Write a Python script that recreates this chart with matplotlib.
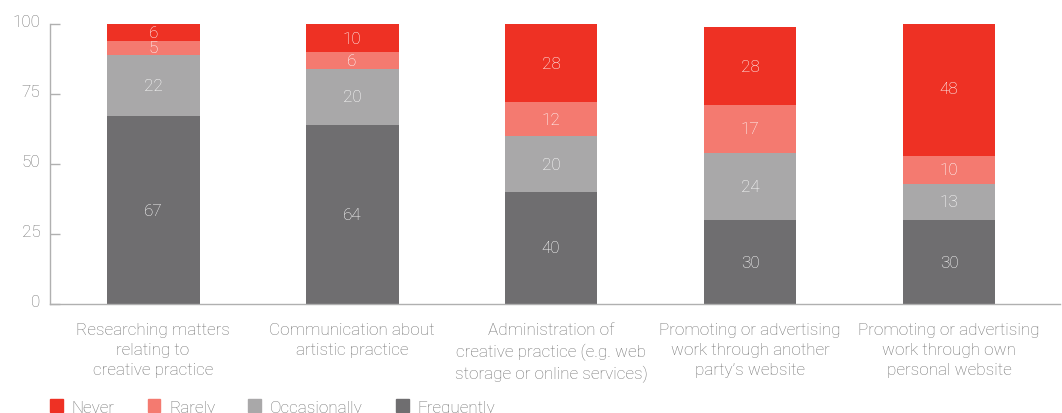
import matplotlib
matplotlib.use("Agg")
import matplotlib.pyplot as plt
import matplotlib.transforms as mtransforms
from matplotlib.patches import Patch
import numpy as np

plt.rcParams['font.family'] = ['Roboto', 'DejaVu Sans']

categories = [
    "Researching matters\nrelating to\ncreative practice",
    "Communication about\nartistic practice",
    "Administration of\ncreative practice (e.g. web\nstorage or online services)",
    "Promoting or advertising\nwork through another\nparty\u2019s website",
    "Promoting or advertising\nwork through own\npersonal website",
]
frequently = [67, 64, 40, 30, 30]
occasionally = [22, 20, 20, 24, 13]
rarely = [5, 6, 12, 17, 10]
never = [6, 10, 28, 28, 48]

series_names = ["Frequently", "Occasionally", "Rarely", "Never"]
series_values = [frequently, occasionally, rarely, never]
colors = ["#6f6e70", "#a9a8a9", "#f47a70", "#ee3124"]
yticks = [0, 25, 50, 75, 100]

text_grey = "#727272"
axis_grey = "#b0b0b0"

fig = plt.figure(figsize=(10.62, 4.14), dpi=100)
ax = fig.add_axes([50 / 1062, 109 / 414, 1010 / 1062, 280 / 414])

x = np.arange(len(categories))
bottom = np.zeros(len(categories))
for name, vals, col in zip(series_names, series_values, colors):
    vals = np.array(vals, dtype=float)
    ax.bar(x, vals, width=0.467, bottom=bottom, color=col, label=name, linewidth=0)
    for xi, b, v in zip(x, bottom, vals):
        ax.text(xi, b + v / 2, f"{int(v)}", ha="center", va="center",
                color="white", fontsize=12.3, fontweight="light")
    bottom += vals

ax.set_xlim(-0.518, 4.558)
ax.set_ylim(0, 100)
ax.set_yticks(yticks)
ax.set_yticklabels([str(t) for t in yticks])
ax.set_xticks(x)
ax.set_xticklabels(categories, fontsize=12.3, color=text_grey, linespacing=1.42,
                   fontweight="light")
ax.tick_params(axis="x", length=0, pad=13)
ax.tick_params(axis="y", direction="in", length=7.5, width=1, color=axis_grey,
               labelsize=12.3, labelcolor=text_grey, pad=7)
offset = mtransforms.ScaledTranslation(0, 3 / 72, fig.dpi_scale_trans)
for lbl in ax.get_yticklabels():
    lbl.set_transform(lbl.get_transform() + offset)
    lbl.set_fontweight("light")

for side in ["top", "right"]:
    ax.spines[side].set_visible(False)
for side in ["left", "bottom"]:
    ax.spines[side].set_color(axis_grey)
    ax.spines[side].set_linewidth(1)

handles = [Patch(color=c, label=n) for n, c in zip(series_names, colors)][::-1]
leg = fig.legend(handles=handles, loc="center left",
                 bbox_to_anchor=(50 / 1062, 1 - 408 / 414),
                 ncol=4, frameon=False, handlelength=0.75,
                 handleheight=0.75, handletextpad=0.5, columnspacing=1.95,
                 borderpad=0, borderaxespad=0, labelcolor=text_grey,
                 prop={"weight": "light", "size": 12.3})

fig.savefig("out.png", dpi=100)
